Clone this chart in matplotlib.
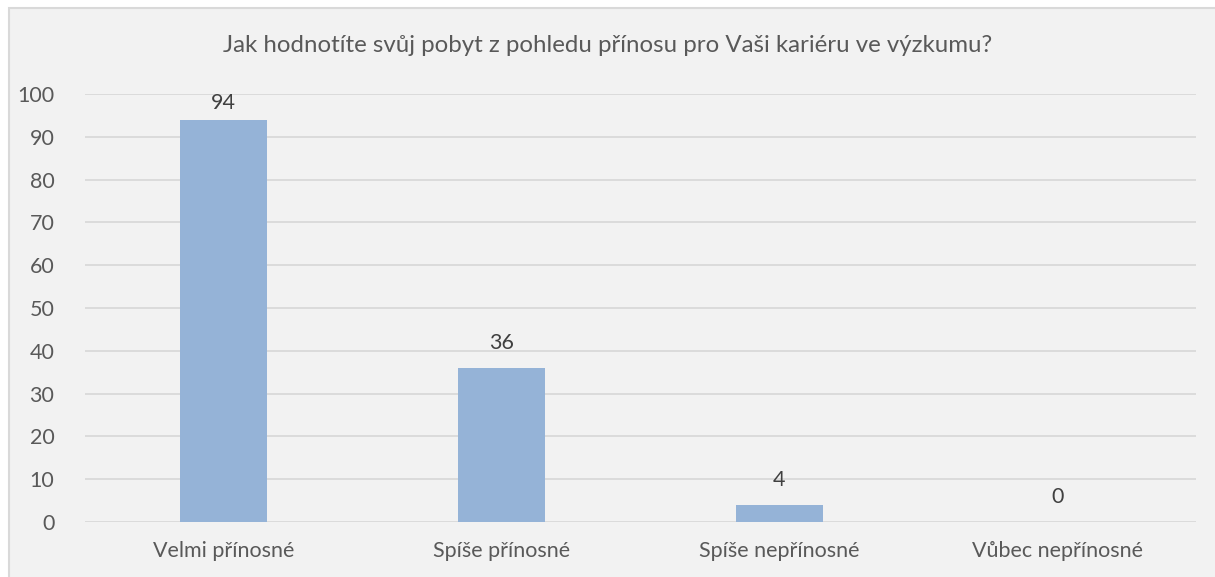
import matplotlib
matplotlib.use("Agg")
import matplotlib.pyplot as plt
from matplotlib.patches import Rectangle

categories = ["Velmi přínosné", "Spíše přínosné", "Spíše nepřínosné", "Vůbec nepřínosné"]
values = [94, 36, 4, 0]
yticks = [0, 10, 20, 30, 40, 50, 60, 70, 80, 90, 100]
title = "Jak hodnotíte svůj pobyt z pohledu přínosu pro Vaši kariéru ve výzkumu?"

W, H = 1215, 577
fig = plt.figure(figsize=(W / 100, H / 100), dpi=100, facecolor="white")
plt.rcParams['font.family'] = ['Lato', 'DejaVu Sans']

bg = Rectangle((9 / W, -0.05), 1.1, 1.05 - 8 / H, transform=fig.transFigure,
               facecolor="#F2F2F2", edgecolor="#D9D9D9", linewidth=1.5, zorder=-10)
fig.patches.append(bg)

ax_h_px = 522 - 94
ax = fig.add_axes([85 / W, 1 - 522 / H, (1196 - 85) / W, ax_h_px / H])
ax.set_zorder(5)
ax.set_facecolor("none")
x = range(len(categories))
ax.bar(x, values, width=0.313, color="#95B3D7", zorder=3)
ax.set_xlim(-0.5, len(categories) - 0.5)
ax.set_ylim(0, 100)
ax.set_yticks(yticks)
ax.set_xticks(list(x))
ax.set_xticklabels(categories)
for s in ax.spines.values():
    s.set_visible(False)
ax.grid(axis="y", color="#D9D9D9", linewidth=1.3, zorder=0)
ax.set_axisbelow(True)
ax.tick_params(axis="both", length=0, labelsize=15.5, labelcolor="#595959")
ax.tick_params(axis="y", pad=22)
ax.tick_params(axis="x", pad=14)
tr = ax.get_xaxis_transform()
for i, v in enumerate(values):
    yfrac = min(v / 100 + 25 / ax_h_px, 1 - 9 / ax_h_px)
    ax.text(i, yfrac, str(v), transform=tr, ha="center", va="center",
            fontsize=15.5, color="#404040")
fig.text(0.5, 1 - 45 / H, title, ha="center", va="center", fontsize=17.3, color="#595959")
fig.savefig("out.png", dpi=100, facecolor="white")
